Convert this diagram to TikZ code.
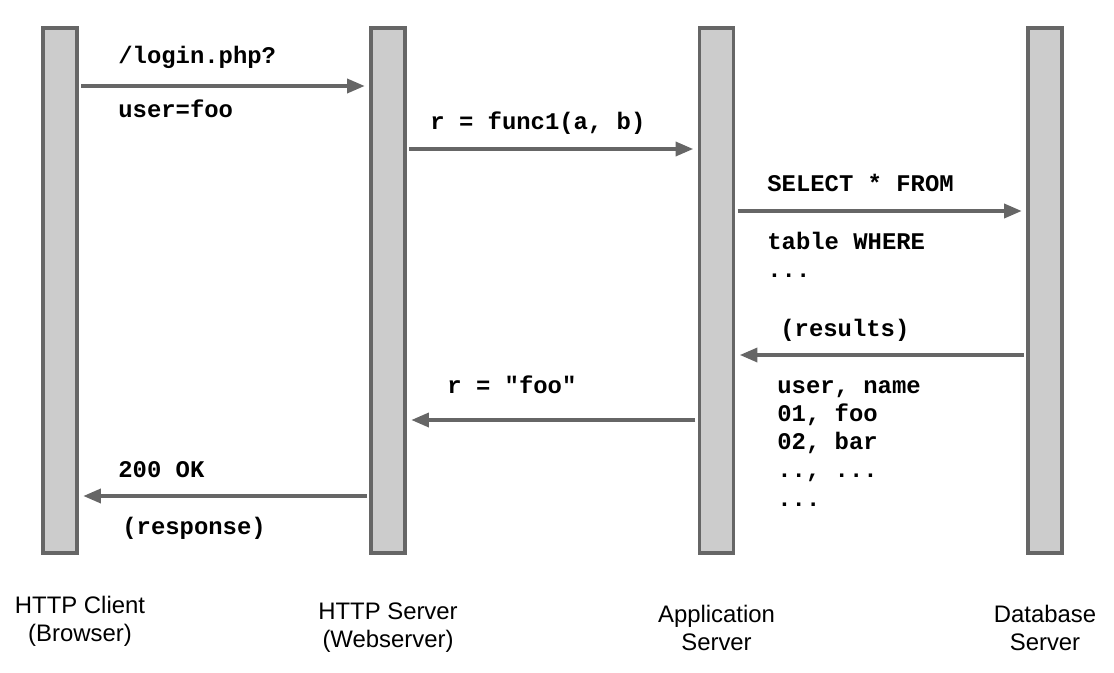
\documentclass[tikz,border=0pt]{standalone}
\usepackage{fontspec}
\setmainfont{Liberation Sans}
\setmonofont{Liberation Mono}
\usetikzlibrary{arrows.meta}
\definecolor{vbarfill}{HTML}{cccccc}
\definecolor{vgray}{HTML}{666666}

\begin{document}
\begin{tikzpicture}[x=0.02cm, y=-0.02cm,
		bar/.style={draw=vgray, fill=vbarfill, line width=2.2pt, minimum width=0.68cm, minimum height=10.5cm, inner sep=0pt},
		msg/.style={draw=vgray, line width=1.9pt, shorten <=1.2pt, shorten >=2.5pt, -{Triangle[length=10pt, width=8pt]}},
		code/.style={font=\fontsize{13.6}{16}\ttfamily\bfseries, anchor=base west, inner sep=0pt},
		role/.style={font=\fontsize{13.6}{16}\selectfont, align=center, inner sep=0pt}]
		\useasboundingbox (0,0) rectangle (1114,672);
		% lifelines
		\node[bar] (client) at (60,290.5) {};
		\node[bar] (web) at (388,290.5) {};
		\node[bar] (app) at (716.5,290.5) {};
		\node[bar] (db) at (1045,290.5) {};
		% message heights
		\coordinate (m1) at (0,86);
		\coordinate (m2) at (0,149);
		\coordinate (m3) at (0,211);
		\coordinate (m4) at (0,355);
		\coordinate (m5) at (0,420);
		\coordinate (m6) at (0,496);
		\draw[msg] (client.east |- m1) -- (web.west |- m1);
		\draw[msg] (web.east |- m2) -- (app.west |- m2);
		\draw[msg] (app.east |- m3) -- (db.west |- m3);
		\draw[msg] (db.west |- m4) -- (app.east |- m4);
		\draw[msg] (app.west |- m5) -- (web.east |- m5);
		\draw[msg] (web.west |- m6) -- (client.east |- m6);
		% message texts
		\node[code] (t1a) at (118,64) {/login.php?};
		\node[code] (t1b) at (118,118) {user=foo};
		\node[code] (t2) at (430,130) {r = func1(a, b)};
		\node[code] (t3a) at (767,192) {SELECT * FROM};
		\node[code] (t3b) at (767,249) {table WHERE};
		\node[code] (t3c) at (767,277) {...};
		\node[code] (t4) at (780,336) {(results)};
		\node[code] (t4a) at (777,393) {user, name};
		\node[code] (t4b) at (777,421) {01, foo};
		\node[code] (t4c) at (777,449) {02, bar};
		\node[code] (t4d) at (777,477) {.., ...};
		\node[code] (t4e) at (777,506) {...};
		\node[code] (t5) at (447,393) {r = "foo"};
		\node[code] (t6a) at (118,477) {200 OK};
		\node[code] (t6b) at (122,534) {(response)};
		% roles
		\node[role] (rclient) at (80,621) {HTTP Client\\(Browser)};
		\node[role] (rweb) at (388,628) {HTTP Server\\(Webserver)};
		\node[role] (rapp) at (716.5,628) {Application\\Server};
		\node[role] (rdb) at (1045,628) {Database\\Server};
	\end{tikzpicture}
\end{document}
